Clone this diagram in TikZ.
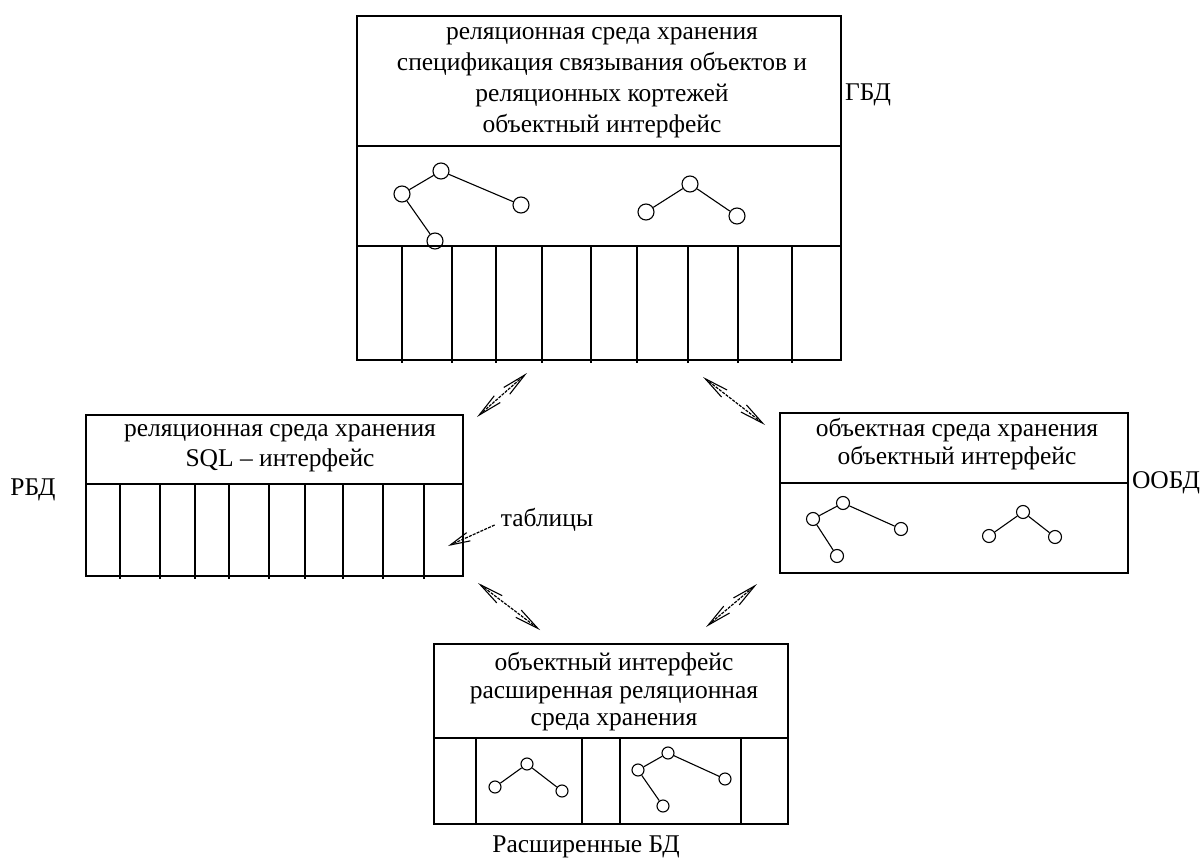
\documentclass[tikz,border=0pt]{standalone}
\usepackage{fontspec}
\setmainfont{Liberation Serif}
\usetikzlibrary{arrows.meta}
\begin{document}
\begin{tikzpicture}[x=1pt,y=-1pt,
  frame/.style={draw, line width=1.6pt, inner sep=0pt},
  divider/.style={line width=1.6pt},
  thickdivider/.style={line width=2.6pt},
  col/.style={line width=1.5pt},
  txt/.style={font=\fontsize{25.5}{#1}\selectfont, align=center, inner sep=0pt},
  txt/.default=29,
  obj/.style={circle, draw, line width=1.1pt, inner sep=0pt, minimum size=#1},
  ref/.style={line width=1.1pt},
  link/.style={dash pattern=on 3pt off 1.2pt, line width=1.2pt,
    {Straight Barb[length=24pt,width=9pt,line width=1.1pt]}-{Straight Barb[length=24pt,width=9pt,line width=1.1pt]}},
  pointer/.style={dash pattern=on 3pt off 1.2pt, line width=1.2pt,
    -{Straight Barb[length=20pt,width=9pt,line width=1.1pt]}},
]
\useasboundingbox (0,0) rectangle (1202,861);
\fill[white] (0,0) rectangle (1202,861);

% ---------- ГБД: hybrid database ----------
\node[frame, minimum width=484pt, minimum height=344pt] (gbd) at (599,188) {};
\draw[divider] (357,146) -- (841,146);
\draw[divider] (357,246) -- (841,246);
\foreach \x in {402,452,496,542,591,637,688,738,792}
  \draw[col] (\x,246) -- (\x,363);
\node[txt=31] (gbdtext) at (602,83) {реляционная среда хранения\\спецификация связывания объектов и\\реляционных кортежей\\объектный интерфейс};
\node[txt] (gbdname) at (868,95) {ГБД};

\begin{scope}[every node/.style={obj=16pt}]
  \node (ga) at (441,171) {};
  \node (gb) at (402,194) {};
  \node (gc) at (521,205) {};
  \node (gd) at (435,241) {};
  \node (ge) at (690,184) {};
  \node (gf) at (646,212) {};
  \node (gg) at (737,216) {};
\end{scope}
\draw[ref] (ga) -- (gb) (ga) -- (gc) (gb) -- (gd) (ge) -- (gf) (ge) -- (gg);

% ---------- РБД: relational database ----------
\node[frame, minimum width=377pt, minimum height=161pt] (rbd) at (274.5,495.5) {};
\draw[divider] (86,484) -- (463,484);
\foreach \x in {120,160,195,229,269,305,343,383,424}
  \draw[col] (\x,484) -- (\x,579);
\node[txt=30] (rbdtext) at (280,448) {реляционная среда хранения\\SQL – интерфейс};
\node[txt] (rbdname) at (33,490) {РБД};
\node[txt] (tables) at (547,520) {таблицы};
\coordinate (tabletip) at (448,546);
\draw[pointer] (tables.west) ++(-6,5) -- (tabletip);

% ---------- ООБД: object database ----------
\node[frame, minimum width=348pt, minimum height=160pt] (oobd) at (954,493) {};
\draw[thickdivider] (780,483) -- (1128,483);
\node[txt=28] (oobdtext) at (957,444) {объектная среда хранения\\объектный интерфейс};
\node[txt] (oobdname) at (1166,483) {ООБД};

\begin{scope}[every node/.style={obj=13pt}]
  \node (oa) at (843,503) {};
  \node (ob) at (813,519) {};
  \node (oc) at (901,529) {};
  \node (od) at (837,556) {};
  \node (oe) at (1023,512) {};
  \node (of) at (989,536) {};
  \node (og) at (1055,537) {};
\end{scope}
\draw[ref] (oa) -- (ob) (oa) -- (oc) (ob) -- (od) (oe) -- (of) (oe) -- (og);

% ---------- Расширенные БД: extended relational database ----------
\node[frame, minimum width=354pt, minimum height=180pt] (ext) at (611,734) {};
\draw[thickdivider] (434,738) -- (788,738);
\foreach \x in {476,582,620,741}
  \draw[col] (\x,738) -- (\x,824);
\node[txt=27.5] (exttext) at (614,692) {объектный интерфейс\\расширенная реляционная\\среда хранения};
\node[txt] (extname) at (586,847) {Расширенные БД};

\begin{scope}[every node/.style={obj=12pt}]
  \node (ea) at (527,764) {};
  \node (eb) at (495,787) {};
  \node (ec) at (562,791) {};
  \node (ed) at (668,753) {};
  \node (ee) at (638,770) {};
  \node (ef) at (725,779) {};
  \node (eg) at (663,806) {};
\end{scope}
\draw[ref] (ea) -- (eb) (ea) -- (ec) (ed) -- (ee) (ed) -- (ef) (ee) -- (eg);

% ---------- transitions between the models ----------
\coordinate (l1a) at (477,417);
\coordinate (l1b) at (527,373);
\coordinate (l2a) at (703,377);
\coordinate (l2b) at (765,425);
\coordinate (l3a) at (478,583);
\coordinate (l3b) at (540,630);
\coordinate (l4a) at (706,627);
\coordinate (l4b) at (757,584);
\draw[link] (l1a) -- (l1b);
\draw[link] (l2a) -- (l2b);
\draw[link] (l3a) -- (l3b);
\draw[link] (l4a) -- (l4b);
\end{tikzpicture}
\end{document}
